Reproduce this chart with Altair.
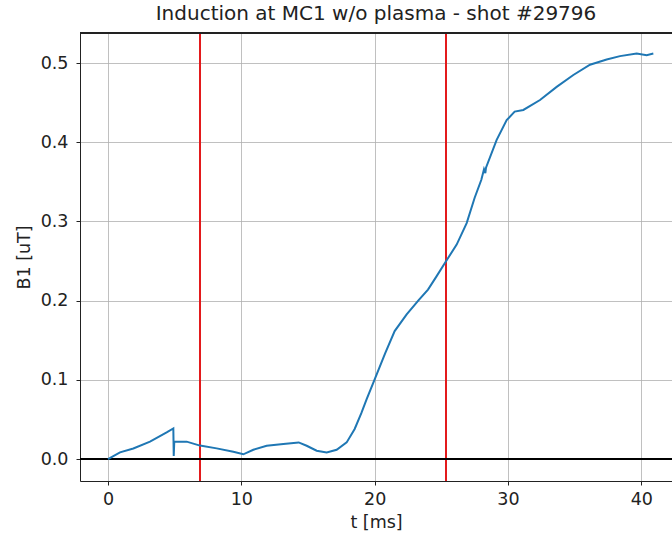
import altair as alt
import pandas as pd

t_ms = [0, 0.9, 1.9, 3.15, 4.4, 4.9, 4.93, 4.97, 5.9, 6.9, 8.15, 9.4, 10.15, 10.9,
        11.9, 13.15, 14.3, 14.9, 15.65, 16.4, 17.15, 17.9, 18.5, 19.0, 19.4, 20.0,
        20.8, 21.5, 22.4, 23.3, 24.0, 24.65, 25.35, 26.15, 26.9, 27.5, 28.0, 28.2,
        28.3, 28.35, 29.15, 29.9, 30.5, 31.15, 32.4, 33.65, 34.9, 36.15, 37.4, 38.4,
        39.65, 40.4, 40.9]
b1_uT = [0.0, 0.0084, 0.0134, 0.022, 0.0336, 0.0387, 0.004, 0.022, 0.022, 0.017,
         0.0135, 0.0092, 0.006, 0.0118, 0.0168, 0.019, 0.021, 0.0168, 0.0105, 0.0084,
         0.0118, 0.021, 0.038, 0.058, 0.0756, 0.1007, 0.134, 0.1616, 0.1826, 0.2006,
         0.214, 0.231, 0.2498, 0.2708, 0.298, 0.33, 0.3526, 0.366, 0.361, 0.368,
         0.403, 0.428, 0.4387, 0.4408, 0.4534, 0.470, 0.485, 0.498, 0.5045, 0.5088,
         0.512, 0.510, 0.512]
red_marks = [6.9, 25.35]
x_ticks = [0, 10, 20, 30, 40]
y_ticks = [0.0, 0.1, 0.2, 0.3, 0.4, 0.5]
x_domain = [-2.1, 42.3]
y_domain = [-0.0277, 0.538]

FONT = "DejaVu Sans"
TXT = "#222222"

df = pd.DataFrame({"t": t_ms, "b": b1_uT})
red_df = pd.DataFrame({"t": red_marks})

xscale = alt.Scale(domain=x_domain, nice=False, zero=False)
yscale = alt.Scale(domain=y_domain, nice=False, zero=False)

xaxis = alt.Axis(values=x_ticks, title="t [ms]", format="d", grid=True,
                 gridColor="#b0b0b0", gridWidth=0.8, domainColor=TXT,
                 domainWidth=1, tickColor=TXT, tickSize=4, labelPadding=5,
                 labelFontSize=17.5, titleFontSize=17.5, titlePadding=6,
                 labelFont=FONT, titleFont=FONT, labelColor=TXT,
                 titleColor=TXT, titleFontWeight="normal")
yaxis = alt.Axis(values=y_ticks, title="B1 [uT]", format=".1f", grid=True,
                 gridColor="#b0b0b0", gridWidth=0.8, domainColor=TXT,
                 domainWidth=1, tickColor=TXT, tickSize=4, labelPadding=8,
                 labelFontSize=17.5, titleFontSize=17.5, titlePadding=7,
                 labelFont=FONT, titleFont=FONT, labelColor=TXT,
                 titleColor=TXT, titleFontWeight="normal")

line = alt.Chart(df).mark_line(color="#1f77b4", strokeWidth=2).encode(
    x=alt.X("t:Q", scale=xscale, axis=xaxis),
    y=alt.Y("b:Q", scale=yscale, axis=yaxis),
)

zero_line = alt.Chart(df).mark_rule(color="black", strokeWidth=2).encode(
    y=alt.datum(0.0)
)

red_lines = alt.Chart(red_df).mark_rule(color="#e31a1c", strokeWidth=2).encode(
    x=alt.X("t:Q", scale=xscale)
)

top_border = alt.Chart(df).mark_rule(color=TXT, strokeWidth=1).encode(
    y=alt.datum(y_domain[1])
)

chart = alt.layer(red_lines, zero_line, line, top_border).properties(
    width=592,
    height=448,
    title=alt.TitleParams("Induction at MC1 w/o plasma - shot #29796", font=FONT,
                          fontSize=20, fontWeight="normal", color=TXT,
                          offset=8),
    autosize=alt.AutoSizeParams(type="none"),
    padding={"left": 80, "top": 33, "right": 0, "bottom": 53},
).configure_view(stroke=None).configure(background="white")

chart.save("out.html", embed_options={"renderer": "svg", "actions": False})
